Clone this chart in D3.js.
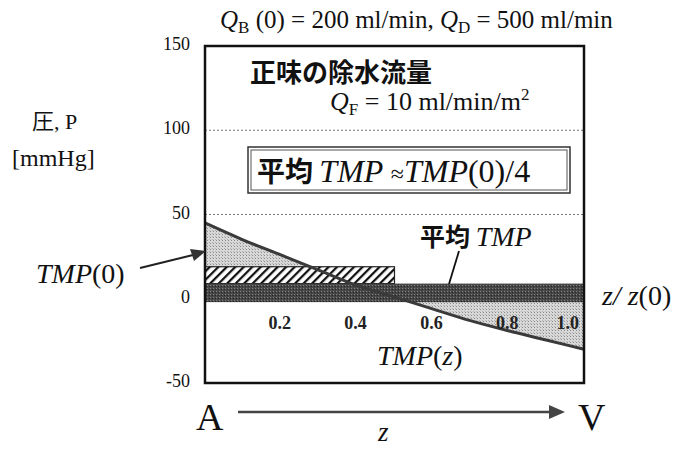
<!DOCTYPE html>
<html>
<head>
<meta charset="utf-8">
<script src="https://cdn.jsdelivr.net/npm/d3@7"></script>
<style>
  html, body { margin: 0; padding: 0; background: #fff; }
  svg { display: block; }
  .serif { font-family: 'Liberation Serif', 'Times New Roman', serif; }
  .cjk { font-family: 'Noto Sans CJK JP', sans-serif; }
</style>
</head>
<body>
<div id="chart"></div>
<script>
// TMP(z)
const zValues = [0, 0.1, 0.2, 0.3, 0.4, 0.5, 0.6, 0.7, 0.8, 0.9, 1.0];
const tmpValues = [45, 35, 26, 17, 8, 1, -6, -13, -19, -24.5, -30];

// mean TMP band over the whole length, and over the first half
const meanBandZ = [0, 1];
const meanBandVal = [-2, 9];
const halfBarZ = [0, 0.5];
const halfBarVal = [9, 19];

const yTicks = [150, 100, 50, 0, -50];
const gridValues = [100, 50];
const xTickLabels = ['0.2', '0.4', '0.6', '0.8', '1.0'];

const width = 680, height = 450;

const svg = d3.select('#chart').append('svg')
  .attr('width', width)
  .attr('height', height)
  .attr('viewBox', [0, 0, width, height]);

const x = d3.scaleLinear().domain([0, 1]).range([205, 584]);
const y = d3.scaleLinear().domain([-50, 150]).range([383, 46]);

const defs = svg.append('defs');

// halftone-ish textures
const light = defs.append('pattern')
  .attr('id', 'light').attr('patternUnits', 'userSpaceOnUse')
  .attr('width', 3).attr('height', 3);
light.append('rect').attr('width', 3).attr('height', 3).attr('fill', '#d8d8d8');
light.append('rect').attr('width', 1).attr('height', 1).attr('fill', '#8c8c8c');
light.append('rect').attr('x', 2).attr('y', 2).attr('width', 1).attr('height', 1).attr('fill', '#b0b0b0');

const dark = defs.append('pattern')
  .attr('id', 'dark').attr('patternUnits', 'userSpaceOnUse')
  .attr('width', 3).attr('height', 3);
dark.append('rect').attr('width', 3).attr('height', 3).attr('fill', '#474747');
dark.append('rect').attr('width', 1).attr('height', 1).attr('fill', '#808080');
dark.append('rect').attr('x', 2).attr('y', 1).attr('width', 1).attr('height', 1).attr('fill', '#262626');

const hatch = defs.append('pattern')
  .attr('id', 'hatch').attr('patternUnits', 'userSpaceOnUse')
  .attr('width', 6).attr('height', 6)
  .attr('patternTransform', 'rotate(45)');
hatch.append('rect').attr('width', 6).attr('height', 6).attr('fill', '#fff');
hatch.append('line').attr('x1', 0).attr('y1', 0).attr('x2', 0).attr('y2', 6)
  .attr('stroke', '#111').attr('stroke-width', 4.5);

const tmpData = zValues.map((z, i) => ({ z, v: tmpValues[i] }));

// dotted reference lines
svg.append('g')
  .selectAll('line')
  .data(gridValues)
  .join('line')
  .attr('x1', x(0)).attr('x2', x(1))
  .attr('y1', d => y(d)).attr('y2', d => y(d))
  .attr('stroke', '#777')
  .attr('stroke-width', 1)
  .attr('stroke-dasharray', '2,2');

// area between TMP(z) and zero
svg.append('path')
  .datum(tmpData)
  .attr('fill', 'url(#light)')
  .attr('d', d3.area()
    .x(d => x(d.z))
    .y0(y(0))
    .y1(d => y(d.v))
    .curve(d3.curveMonotoneX));

// mean TMP over first half (hatched)
svg.append('rect')
  .attr('x', x(halfBarZ[0]))
  .attr('y', y(halfBarVal[1]))
  .attr('width', x(halfBarZ[1]) - x(halfBarZ[0]))
  .attr('height', y(halfBarVal[0]) - y(halfBarVal[1]))
  .attr('fill', 'url(#hatch)')
  .attr('stroke', '#222')
  .attr('stroke-width', 1.2);

// mean TMP band
svg.append('rect')
  .attr('x', x(meanBandZ[0]))
  .attr('y', y(meanBandVal[1]))
  .attr('width', x(meanBandZ[1]) - x(meanBandZ[0]))
  .attr('height', y(meanBandVal[0]) - y(meanBandVal[1]))
  .attr('fill', 'url(#dark)');

// TMP(z) line
svg.append('path')
  .datum(tmpData)
  .attr('fill', 'none')
  .attr('stroke', '#3a3a3a')
  .attr('stroke-width', 3)
  .attr('d', d3.line()
    .x(d => x(d.z))
    .y(d => y(d.v))
    .curve(d3.curveMonotoneX));

// frame
svg.append('rect')
  .attr('x', x(0)).attr('y', y(150))
  .attr('width', x(1) - x(0)).attr('height', y(-50) - y(150))
  .attr('fill', 'none')
  .attr('stroke', '#111')
  .attr('stroke-width', 2.5);

// y tick labels
svg.append('g')
  .selectAll('text')
  .data(yTicks)
  .join('text')
  .attr('class', 'serif')
  .attr('x', 190)
  .attr('y', d => y(d) + 4)
  .attr('text-anchor', 'end')
  .attr('font-size', 18)
  .attr('fill', '#111')
  .text(d => d);

// z tick labels (inside frame); last one pulled inside the border
svg.append('g')
  .selectAll('text')
  .data(xTickLabels)
  .join('text')
  .attr('class', 'serif')
  .attr('x', (d, i) => i === xTickLabels.length - 1 ? x(+d) - 5 : x(+d) - 1)
  .attr('y', y(0) + 30)
  .attr('text-anchor', (d, i) => i === xTickLabels.length - 1 ? 'end' : 'middle')
  .attr('font-size', 18)
  .attr('font-weight', 'bold')
  .attr('fill', '#222')
  .text(d => d);

// title
const title = svg.append('text').attr('class', 'serif')
  .attr('x', 220).attr('y', 28).attr('font-size', 25).attr('fill', '#111');
title.append('tspan').attr('font-style', 'italic').text('Q');
title.append('tspan').attr('font-size', 17).attr('dy', 5).text('B');
title.append('tspan').attr('dy', -5).text(' (0) = 200 ml/min, ');
title.append('tspan').attr('font-style', 'italic').text('Q');
title.append('tspan').attr('font-size', 17).attr('dy', 5).text('D');
title.append('tspan').attr('dy', -5).text(' = 500 ml/min');

// y axis title
svg.append('text').attr('x', 32).attr('y', 129).attr('font-size', 22).attr('fill', '#111')
  .call(t => {
    t.append('tspan').attr('class', 'cjk').text('圧');
    t.append('tspan').attr('class', 'serif').text(', P');
  });
svg.append('text').attr('class', 'serif').attr('x', 12).attr('y', 166)
  .attr('font-size', 24).attr('fill', '#111').text('[mmHg]');

// net ultrafiltration
svg.append('text').attr('class', 'cjk').attr('x', 250).attr('y', 82)
  .attr('font-size', 26).attr('font-weight', 'bold').attr('fill', '#111').text('正味の除水流量');
const qf = svg.append('text').attr('class', 'serif')
  .attr('x', 330).attr('y', 110).attr('font-size', 26).attr('fill', '#111');
qf.append('tspan').attr('font-style', 'italic').text('Q');
qf.append('tspan').attr('font-size', 17).attr('dy', 5).text('F');
qf.append('tspan').attr('dy', -5).text(' = 10 ml/min/m');
qf.append('tspan').attr('font-size', 17).attr('dy', -10).text('2');

// boxed formula
svg.append('rect').attr('x', 248).attr('y', 147).attr('width', 322).attr('height', 46)
  .attr('fill', '#fff').attr('stroke', '#333').attr('stroke-width', 1.5);
svg.append('rect').attr('x', 251).attr('y', 150).attr('width', 316).attr('height', 40)
  .attr('fill', 'none').attr('stroke', '#555').attr('stroke-width', 1);
const boxed = svg.append('text').attr('x', 257).attr('y', 182).attr('font-size', 32).attr('fill', '#111');
boxed.append('tspan').attr('class', 'cjk').attr('font-weight', 'bold').attr('font-size', 28).text('平均 ');
boxed.append('tspan').attr('class', 'serif').attr('font-style', 'italic').text('TMP ');
boxed.append('tspan').attr('class', 'serif').attr('font-size', 24).text('≈');
boxed.append('tspan').attr('class', 'serif').attr('font-style', 'italic').text('TMP');
boxed.append('tspan').attr('class', 'serif').text('(0)/4');

// mean TMP label + leader
const mean = svg.append('text').attr('x', 420).attr('y', 246).attr('font-size', 28).attr('fill', '#111');
mean.append('tspan').attr('class', 'cjk').attr('font-weight', 'bold').attr('font-size', 25).text('平均 ');
mean.append('tspan').attr('class', 'serif').attr('font-style', 'italic').text('TMP');
svg.append('line').attr('x1', 459).attr('y1', 251).attr('x2', 449).attr('y2', 284)
  .attr('stroke', '#111').attr('stroke-width', 1.8);

// TMP(0) label + arrow
const t0 = svg.append('text').attr('class', 'serif').attr('x', 36).attr('y', 283)
  .attr('font-size', 28).attr('fill', '#111');
t0.append('tspan').attr('font-style', 'italic').text('TMP');
t0.append('tspan').text('(0)');
svg.append('line').attr('x1', 140).attr('y1', 268).attr('x2', 193).attr('y2', 255)
  .attr('stroke', '#222').attr('stroke-width', 2);
svg.append('path').attr('d', 'M206,251 L190,249 L194,261 Z').attr('fill', '#333');

// TMP(z) label
const tz = svg.append('text').attr('class', 'serif').attr('x', 377).attr('y', 365)
  .attr('font-size', 28).attr('fill', '#111');
tz.append('tspan').attr('font-style', 'italic').text('TMP');
tz.append('tspan').text('(');
tz.append('tspan').attr('font-style', 'italic').text('z');
tz.append('tspan').text(')');

// z/z(0) label
const zl = svg.append('text').attr('class', 'serif').attr('x', 602).attr('y', 305)
  .attr('font-size', 28).attr('fill', '#111');
zl.append('tspan').attr('font-style', 'italic').text('z/ z');
zl.append('tspan').text('(0)');

// A -> V
svg.append('text').attr('class', 'serif').attr('x', 196).attr('y', 430)
  .attr('font-size', 38).attr('fill', '#111').text('A');
svg.append('text').attr('class', 'serif').attr('x', 578).attr('y', 430)
  .attr('font-size', 38).attr('fill', '#111').text('V');
svg.append('line').attr('x1', 238).attr('y1', 412).attr('x2', 552).attr('y2', 412)
  .attr('stroke', '#444').attr('stroke-width', 2.5);
svg.append('path').attr('d', 'M565,412 L549,405 L549,419 Z').attr('fill', '#444');
svg.append('text').attr('class', 'serif').attr('x', 378).attr('y', 441)
  .attr('font-size', 27).attr('font-style', 'italic').attr('fill', '#111').text('z');
</script>
</body>
</html>
